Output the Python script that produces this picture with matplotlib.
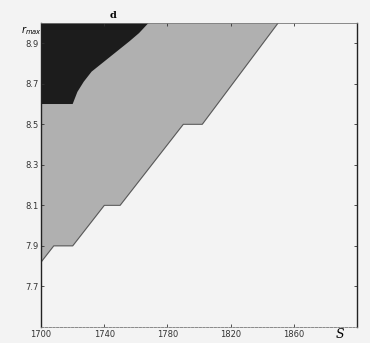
import matplotlib
matplotlib.use("Agg")
import matplotlib.pyplot as plt

# staircase lower boundary of the gray region (S, r_max)
stair_s = [1700, 1708, 1720, 1740, 1750, 1790, 1802, 1850]
stair_r = [7.82, 7.90, 7.90, 8.10, 8.10, 8.50, 8.50, 9.00]

# boundary of the black region
black_s = [1700, 1700, 1720, 1723, 1727, 1732, 1740, 1748, 1756, 1762, 1768]
black_r = [9.00, 8.60, 8.60, 8.66, 8.71, 8.76, 8.81, 8.86, 8.91, 8.95, 9.00]

xticks = [1700, 1740, 1780, 1820, 1860]
yticks = [7.7, 7.9, 8.1, 8.3, 8.5, 8.7, 8.9]
ytick_labels = ["7.7", "7.9", "8.1", "8.3", "8.5", "8.7", "8.9"]

fig = plt.figure(figsize=(3.7, 3.43), dpi=100, facecolor="#f3f3f3")
ax = fig.add_axes([0.111, 0.047, 0.854, 0.886])
ax.set_facecolor("#f3f3f3")

ax.fill_between(stair_s, stair_r, 9.0, color="#b0b0b0", linewidth=0)
ax.plot(stair_s, stair_r, color="#555555", lw=0.7)
ax.fill(black_s, black_r, color="#1c1c1c", linewidth=0)

ax.set_xlim(1700, 1900)
ax.set_ylim(7.5, 9.0)
ax.set_xticks(xticks)
ax.set_yticks(yticks)
ax.set_yticklabels(ytick_labels)
ax.tick_params(direction="in", length=2.5, width=0.6, labelsize=6,
               top=True, right=True, pad=2, colors="#333333")

for side in ["left", "right"]:
    ax.spines[side].set_linewidth(1.0)
    ax.spines[side].set_color("#222222")
ax.spines["top"].set_linewidth(0.6)
ax.spines["top"].set_color("#777777")
ax.spines["bottom"].set_linewidth(0.6)
ax.spines["bottom"].set_color("#777777")
ax.spines["bottom"].set_linestyle((0, (3, 1.5)))

fig.text(0.305, 0.955, "d", fontsize=7, fontweight="bold", ha="center", va="center",
         family="DejaVu Serif")
fig.text(0.058, 0.912, r"$r_{max}$", fontsize=7, ha="left", va="center",
         family="DejaVu Serif")
fig.text(0.92, 0.025, "S", fontsize=9, style="italic", ha="center", va="center",
         family="DejaVu Serif")

fig.savefig("out.png", dpi=100, facecolor=fig.get_facecolor())
